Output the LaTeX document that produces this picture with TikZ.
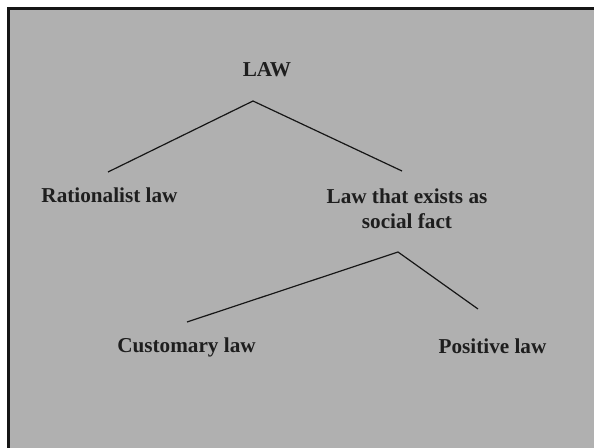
\documentclass[tikz,border=0pt]{standalone}
\usepackage{fontspec}
\setmainfont{Liberation Serif}
\definecolor{panel}{RGB}{176,176,176}
\definecolor{ink}{RGB}{30,30,30}
\definecolor{rule}{RGB}{22,22,22}
\begin{document}
\begin{tikzpicture}[x=1pt,y=-1pt,
  term/.style={font=\fontsize{21.2}{25}\selectfont\bfseries, text=ink,
               inner sep=0pt, anchor=base, align=center},
  branch/.style={draw=rule, line width=1.2pt}]
\clip (0,0) rectangle (594,447);
\fill[white] (0,0) rectangle (594,447);
% slide panel: framed on the left and top, running off the other edges
\filldraw[fill=panel, draw=rule, line width=2.6pt] (8.2,8.6) rectangle (640,490);

% terms of the classification
\node[term] (law)  at (267,76.5)  {LAW};
\node[term] (rat)  at (109.5,202) {Rationalist law};
% a two-line node sits on the baseline of its last line
\node[term] (soc)  at (407,228.3) {Law that exists as\\social fact};
\node[term] (cust) at (186.5,352.5) {Customary law};
\node[term] (pos)  at (492.5,353) {Positive law};

% branch points
\coordinate (law-fork) at (253,101);
\coordinate (rat-top)  at (108,172);
\coordinate (soc-top)  at (402,171);
\coordinate (soc-fork) at (398,252);
\coordinate (cust-top) at (187,322);
\coordinate (pos-top)  at (478,309);

\draw[branch] (rat-top) -- (law-fork) -- (soc-top);
\draw[branch] (cust-top) -- (soc-fork) -- (pos-top);
\end{tikzpicture}
\end{document}
